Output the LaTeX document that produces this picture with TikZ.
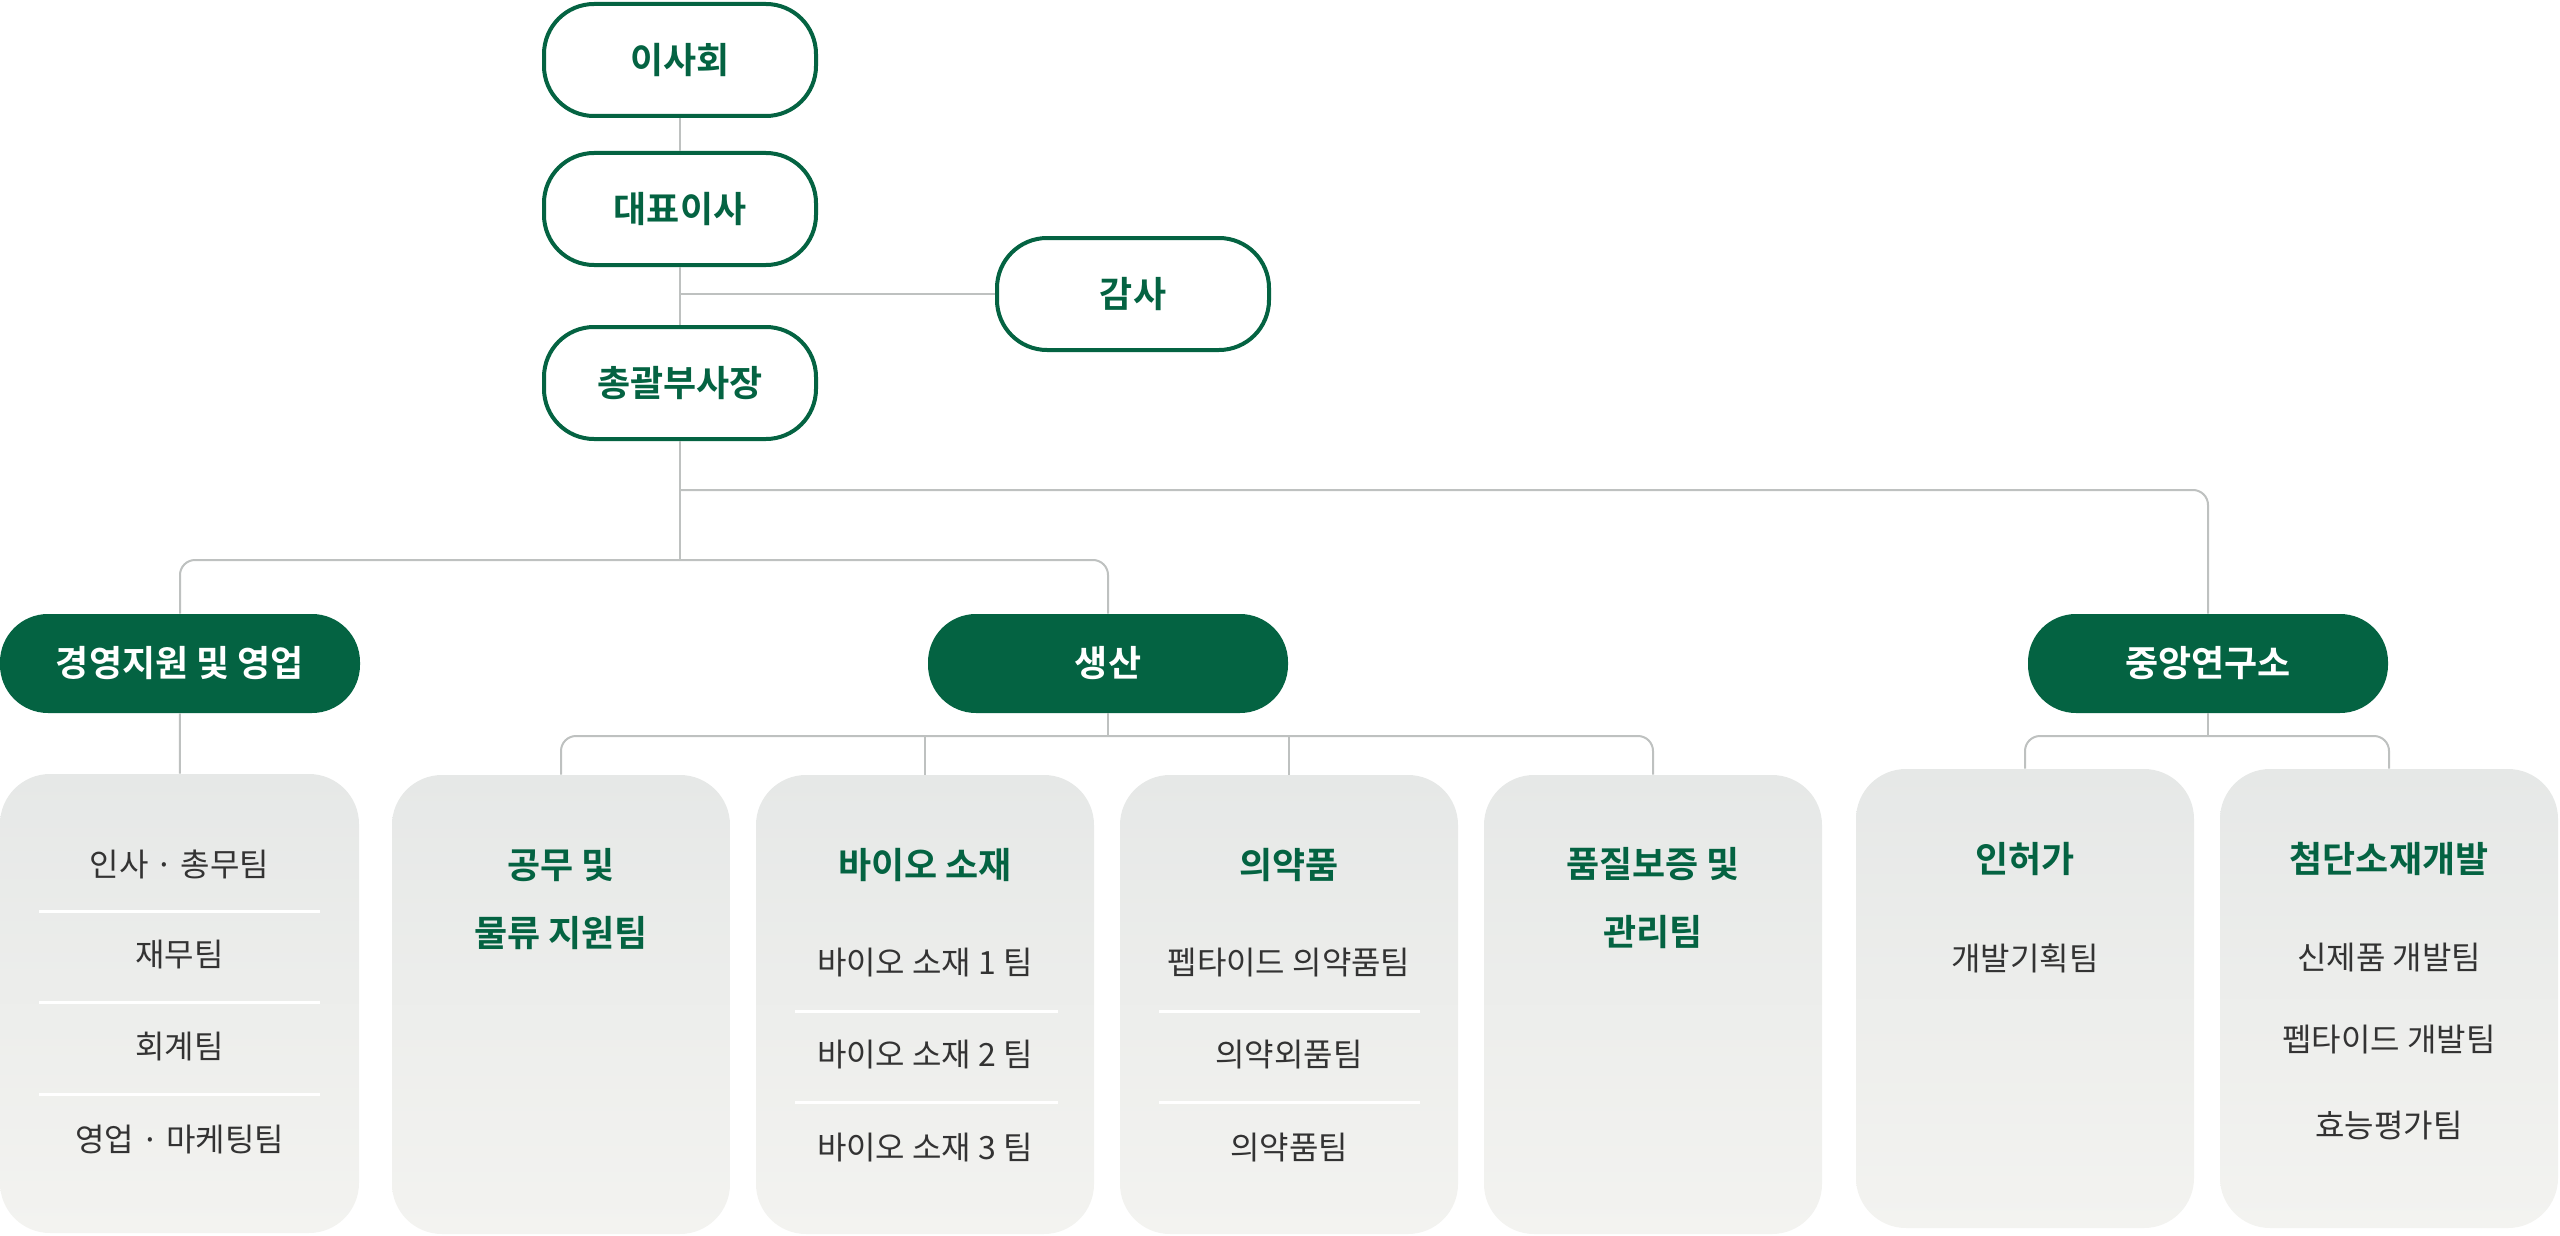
\documentclass[tikz,border=0pt]{standalone}
\usepackage{fontspec}
\setmainfont{Noto Sans CJK KR}[BoldFont={Noto Sans CJK KR Bold}]

\definecolor{orggreen}{RGB}{4,99,66}
\definecolor{linegray}{RGB}{190,193,192}
\definecolor{itemgray}{RGB}{51,51,51}
\definecolor{boxtop}{RGB}{230,232,231}
\definecolor{boxbottom}{RGB}{243,243,240}

\tikzset{
  topbox/.style={draw=orggreen, line width=2pt, fill=white, rounded corners=25pt,
    minimum width=136pt, minimum height=56pt, inner sep=0pt,
    text=orggreen, font=\fontsize{18}{22}\selectfont\bfseries},
  deptbox/.style={fill=orggreen, rounded corners=24pt, minimum width=180pt,
    minimum height=49.5pt, inner sep=0pt, text=white,
    font=\fontsize{18}{22}\selectfont\bfseries},
  teambox/.style={top color=boxtop, bottom color=boxbottom, rounded corners=25pt,
    minimum width=169pt, minimum height=229.5pt, inner sep=0pt},
  teamhead/.style={text=orggreen, align=center,
    font=\fontsize{18}{34}\selectfont\bfseries},
  teamitem/.style={text=itemgray, font=\fontsize{16}{20}\selectfont},
  link/.style={draw=linegray, line width=1pt, rounded corners=7.5pt},
  divider/.style={draw=white, line width=1.5pt}
}

\begin{document}
\begin{tikzpicture}[x=0.5pt, y=-0.5pt]
\useasboundingbox (0,0) rectangle (2560,1236);

% Top of the chart
\node[topbox] (board) at (680,60) {이사회};
\node[topbox] (ceo) at (680,209) {대표이사};
\node[topbox] (audit) at (1133,294) {감사};
\node[topbox] (vp) at (680,383) {총괄부사장};

% Divisions
\node[deptbox] (mgmt) at (180,663.5) {경영지원 및 영업};
\node[deptbox] (prod) at (1108,663.5) {생산};
\node[deptbox] (lab) at (2208,663.5) {중앙연구소};

% Team boxes
\node[teambox, minimum width=179.5pt] (teamA) at (179.5,1003.5) {};
\node[teambox] (teamB) at (561,1004.5) {};
\node[teambox] (teamC) at (925,1004.5) {};
\node[teambox] (teamD) at (1289,1004.5) {};
\node[teambox] (teamE) at (1653,1004.5) {};
\node[teambox] (teamF) at (2025,998.5) {};
\node[teambox] (teamG) at (2389,998.5) {};

% Lines
\coordinate (busA) at (680,560);
\coordinate (busB) at (680,490);
\coordinate (busC) at (1108,736);
\coordinate (busD) at (2208,736);
\draw[link] (board) -- (ceo);
\draw[link] (ceo) -- (vp);
\draw[link] (audit.west) -- (audit.west -| ceo.south);
\draw[link] (vp) -- (busA);
\draw[link] (mgmt.north) |- (busA) -| (prod.north);
\draw[link] (busB) -| (lab.north);
\draw[link] (mgmt) -- (teamA);
\draw[link] (prod) -- (busC);
\draw[link] (teamB.north) |- (busC) -| (teamE.north);
\draw[link] (teamC.north) -- (teamC.north |- busC);
\draw[link] (teamD.north) -- (teamD.north |- busC);
\draw[link] (lab) -- (busD);
\draw[link] (teamF.north) |- (busD) -| (teamG.north);

% Dividers
\draw[divider] (39,911) -- (320,911);
\draw[divider] (39,1002) -- (320,1002);
\draw[divider] (39,1094) -- (320,1094);
\draw[divider] (795,1011) -- (1058,1011);
\draw[divider] (795,1102) -- (1058,1102);
\draw[divider] (1159,1011) -- (1420,1011);
\draw[divider] (1159,1102) -- (1420,1102);

% Writing
\node[teamitem] (a1) at (179.5,864) {인사 · 총무팀};
\node[teamitem] (a2) at (179.5,955) {재무팀};
\node[teamitem] (a3) at (179.5,1047) {회계팀};
\node[teamitem] (a4) at (179.5,1140) {영업 · 마케팅팀};

\node[teamhead] (b0) at (561,899) {공무 및\\물류 지원팀};

\node[teamhead] (c0) at (925,865) {바이오 소재};
\node[teamitem] (c1) at (925,963) {바이오 소재 1 팀};
\node[teamitem] (c2) at (925,1055) {바이오 소재 2 팀};
\node[teamitem] (c3) at (925,1148) {바이오 소재 3 팀};

\node[teamhead] (d0) at (1289,865) {의약품};
\node[teamitem] (d1) at (1289,963) {펩타이드 의약품팀};
\node[teamitem] (d2) at (1289,1055) {의약외품팀};
\node[teamitem] (d3) at (1289,1148) {의약품팀};

\node[teamhead] (e0) at (1653,898) {품질보증 및\\관리팀};

\node[teamhead] (f0) at (2025,859) {인허가};
\node[teamitem] (f1) at (2025,958) {개발기획팀};

\node[teamhead] (g0) at (2389,859) {첨단소재개발};
\node[teamitem] (g1) at (2389,958) {신제품 개발팀};
\node[teamitem] (g2) at (2389,1040) {펩타이드 개발팀};
\node[teamitem] (g3) at (2389,1125) {효능평가팀};
\end{tikzpicture}
\end{document}
